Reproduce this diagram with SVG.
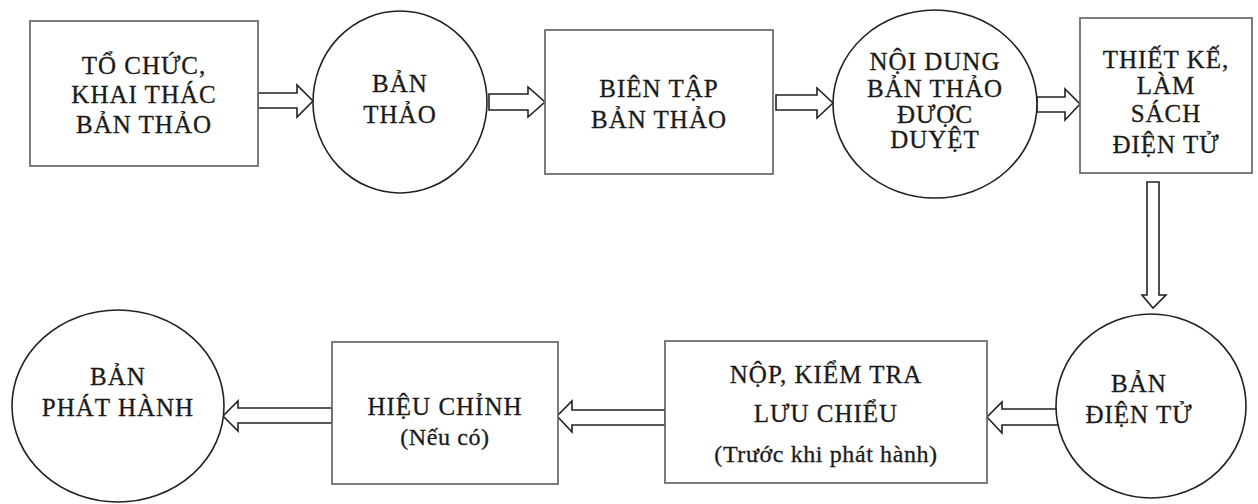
<svg xmlns="http://www.w3.org/2000/svg" width="1258" height="504" viewBox="0 0 1258 504">
<style>
.box{fill:#fff;stroke:#666;stroke-width:1.7}
.oval{fill:#fff;stroke:#222;stroke-width:1.6}
.arr{fill:#fff;stroke:#222;stroke-width:1.6;stroke-linejoin:miter}
text{font-family:"Liberation Serif","Times New Roman",serif;font-size:25px;fill:#1a1a1a;stroke:#1a1a1a;stroke-width:0.3;text-anchor:middle;letter-spacing:1px}
text.lc{font-size:24px;letter-spacing:0.6px}
</style>
<rect width="1258" height="504" fill="#fff"/>
<g id="connectors">
<polygon class="arr" points="258,93 297,93 297,85 313,101 297,117 297,108 258,108"/>
<polygon class="arr" points="489,94 528,94 528,87 545,102 528,117 528,110 489,110"/>
<polygon class="arr" points="776,95 817,95 817,88 833,103 817,118 817,110 776,110"/>
<polygon class="arr" points="1037,97 1065,97 1065,89 1080,104 1065,120 1065,112 1037,112"/>
<polygon class="arr" points="1147,182 1159,182 1159,295 1166,295 1153,308 1142,295 1147,295"/>
<polygon class="arr" points="1058,409 1002,409 1002,402 987,417 1002,433 1002,425 1058,425"/>
<polygon class="arr" points="665,410 572,410 572,401 557,416 572,432 572,425 665,425"/>
<polygon class="arr" points="332,408 238,408 238,401 223,416 238,431 238,423 332,423"/>
</g>
<g id="n1">
<rect class="box" x="30" y="21" width="228" height="145"/>
<text x="144" y="74">TỔ CHỨC,</text>
<text x="144" y="103">KHAI THÁC</text>
<text x="144" y="133">BẢN THẢO</text>
</g>
<g id="n2">
<ellipse class="oval" cx="400" cy="102" rx="87" ry="91"/>
<text x="400" y="92">BẢN</text>
<text x="400" y="123">THẢO</text>
</g>
<g id="n3">
<rect class="box" x="545" y="30" width="228" height="144"/>
<text x="659" y="97">BIÊN TẬP</text>
<text x="659" y="128">BẢN THẢO</text>
</g>
<g id="n4">
<ellipse class="oval" cx="935" cy="104" rx="102" ry="94"/>
<text x="935" y="70">NỘI DUNG</text>
<text x="935" y="97">BẢN THẢO</text>
<text x="935" y="123">ĐƯỢC</text>
<text x="935" y="148">DUYỆT</text>
</g>
<g id="n5">
<rect class="box" x="1080" y="18" width="172" height="155"/>
<text x="1166" y="68">THIẾT KẾ,</text>
<text x="1166" y="94">LÀM</text>
<text x="1166" y="122">SÁCH</text>
<text x="1166" y="153">ĐIỆN TỬ</text>
</g>
<g id="n6">
<ellipse class="oval" cx="1151" cy="406" rx="95" ry="92"/>
<text x="1139" y="392">BẢN</text>
<text x="1139" y="423">ĐIỆN TỬ</text>
</g>
<g id="n7">
<rect class="box" x="665" y="341" width="322" height="142"/>
<text x="826" y="383">NỘP, KIỂM TRA</text>
<text x="826" y="422">LƯU CHIỂU</text>
<text class="lc" x="826" y="462">(Trước khi phát hành)</text>
</g>
<g id="n8">
<rect class="box" x="332" y="342" width="226" height="142"/>
<text x="445" y="415">HIỆU CHỈNH</text>
<text class="lc" x="445" y="445">(Nếu có)</text>
</g>
<g id="n9">
<ellipse class="oval" cx="118" cy="406" rx="106" ry="96"/>
<text x="118" y="385">BẢN</text>
<text x="118" y="416">PHÁT HÀNH</text>
</g>
</svg>
